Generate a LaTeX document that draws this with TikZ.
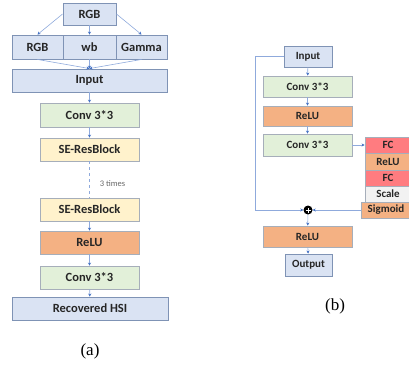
\documentclass[tikz,border=0pt]{standalone}
\usepackage{fontspec}
\setmainfont{Carlito}
\newfontfamily\capfont{Liberation Serif}
\usetikzlibrary{arrows.meta}

\definecolor{boxblue}{HTML}{DAE3F3}
\definecolor{boxgreen}{HTML}{E2F0D9}
\definecolor{boxyellow}{HTML}{FFF2CC}
\definecolor{boxorange}{HTML}{F4B183}
\definecolor{boxred}{HTML}{FF7C80}
\definecolor{boxgray}{HTML}{F2F2F2}
\definecolor{edgeblue}{HTML}{8FAADC}
\definecolor{tipblue}{HTML}{4472C4}
\definecolor{frameblue}{HTML}{7F93B5}
\definecolor{framegray}{HTML}{A6AEBA}

\tikzset{
	blk/.style={draw=framegray, line width=0.9pt, inner sep=0pt, text=black!85,
		font=\bfseries\fontsize{12.5}{13}\selectfont},
	small/.style={font=\bfseries\fontsize{11}{12}\selectfont},
	bluebox/.style={blk, draw=frameblue, fill=boxblue},
	greenbox/.style={blk, fill=boxgreen},
	yellowbox/.style={blk, fill=boxyellow},
	orangebox/.style={blk, fill=boxorange},
	redbox/.style={blk, fill=boxred},
	graybox/.style={blk, fill=boxgray},
	conn/.style={draw=edgeblue, line width=0.6pt,
		-{Stealth[length=3pt,width=3.2pt,color=tipblue]}},
}

\begin{document}
\begin{tikzpicture}[x=1pt,y=-1pt]
	
	\useasboundingbox (0,0) rectangle (409,370);
	
	% (a)
	\node[bluebox, minimum width=53, minimum height=22] (rgbtop) at (89.5,14) {RGB};
	\node[bluebox, minimum width=51, minimum height=24] (rgb) at (37.5,47) {RGB};
	\node[bluebox, minimum width=53, minimum height=24] (wb) at (89.5,47) {wb};
	\node[bluebox, minimum width=51, minimum height=24] (gamma) at (141.5,47) {Gamma};
	\node[bluebox, minimum width=155, minimum height=23] (input) at (89.5,80.5) {Input};
	\node[greenbox, minimum width=99, minimum height=24] (conva) at (89.5,115) {Conv 3*3};
	\node[yellowbox, minimum width=99, minimum height=23] (sea) at (89.5,149.5) {SE-ResBlock};
	\node[yellowbox, minimum width=99, minimum height=23] (seb) at (89.5,209.5) {SE-ResBlock};
	\node[orangebox, minimum width=99, minimum height=23] (relua) at (89.5,242.5) {ReLU};
	\node[greenbox, minimum width=99, minimum height=23] (convb) at (89.5,277.5) {Conv 3*3};
	\node[bluebox, minimum width=156, minimum height=23] (hsi) at (90,308.5) {Recovered HSI};
	
	\draw[conn] (rgbtop.west) -- (rgb.north);
	\draw[conn] (rgbtop.south) -- (wb.north);
	\draw[conn] (rgbtop.east) -- (gamma.north);
	\draw[conn] (rgb.south) -- (input.north);
	\draw[conn] (wb.south) -- (input.north);
	\draw[conn] (gamma.south) -- (input.north);
	\draw[conn] (input) -- (conva);
	\draw[conn] (conva) -- (sea);
	\draw[draw=edgeblue, line width=0.6pt, dashed] (sea) -- (seb);
	\node[text=black!60, font=\fontsize{8.5}{9}\selectfont] (times) at (112.5,184) {3 times};
	\draw[conn] (seb) -- (relua);
	\draw[conn] (relua) -- (convb);
	\draw[conn] (convb) -- (hsi);
	
	\node[font=\capfont\fontsize{17}{18}\selectfont] (capa) at (90,351) {(a)};
	
	% (b)
	\node[bluebox, small, minimum width=48, minimum height=21] (binput) at (308,56.5) {Input};
	\node[greenbox, small, minimum width=89, minimum height=21] (bconva) at (307.5,86.5) {Conv 3*3};
	\node[orangebox, small, minimum width=89, minimum height=20] (brelua) at (307.5,116) {ReLU};
	\node[greenbox, small, minimum width=89, minimum height=22] (bconvb) at (307.5,145) {Conv 3*3};
	
	% squeeze-excitation
	\node[redbox, small, minimum width=46, minimum height=16] (fca) at (388,145) {FC};
	\node[orangebox, small, minimum width=46, minimum height=17] (srelu) at (388,161.5) {ReLU};
	\node[redbox, small, minimum width=46, minimum height=16] (fcb) at (388,178) {FC};
	\node[graybox, small, minimum width=46, minimum height=16] (scale) at (388,194) {Scale};
	\node[orangebox, small, minimum width=50, minimum height=16] (sigm) at (386,210) {Sigmoid};
	
	\node[circle, fill=black, minimum size=9, inner sep=0pt] (sum) at (308,210) {};
	\draw[white, line width=0.7pt] ([xshift=-2.5pt]sum.center) -- ([xshift=2.5pt]sum.center);
	\draw[white, line width=0.7pt] ([yshift=-2.5pt]sum.center) -- ([yshift=2.5pt]sum.center);
	
	\node[orangebox, small, minimum width=89, minimum height=21] (brelub) at (307.5,236.5) {ReLU};
	\node[bluebox, small, minimum width=47, minimum height=22] (boutput) at (308.5,265) {Output};
	
	\coordinate (loop) at (255,210);
	
	\draw[conn] (binput) -- (bconva);
	\draw[conn] (bconva) -- (brelua);
	\draw[conn] (brelua) -- (bconvb);
	\draw[conn] (bconvb) -- (fca);
	\draw[conn] (sigm) -- (sum);
	\draw[conn] (binput.west) -| (loop) -- (sum.west);
	\draw[conn] (sum) -- (brelub);
	\draw[conn] (brelub) -- (boutput);
	
	\node[font=\capfont\fontsize{17}{18}\selectfont] (capb) at (335,306) {(b)};
	
\end{tikzpicture}
\end{document}
